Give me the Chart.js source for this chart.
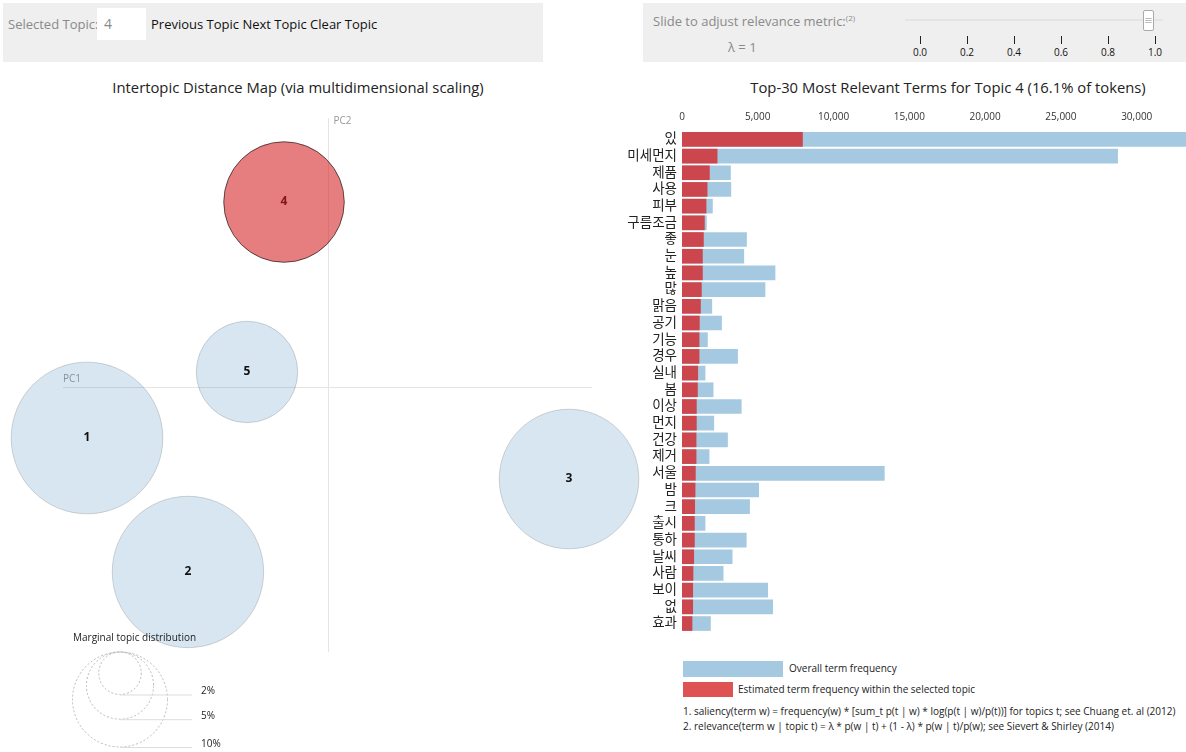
<!DOCTYPE html>
<html>
<head>
<meta charset="utf-8">
<script src="https://cdn.jsdelivr.net/npm/chart.js@4.4.1/dist/chart.umd.min.js"></script>
<style>
  body { margin: 0; width: 1186px; height: 752px; position: relative; overflow: hidden; background: #fff;
         font-family: "Open Sans", "Noto Sans CJK KR", sans-serif; color: #222; }
  .box { position: absolute; background: #efefef; }
  .abs { position: absolute; white-space: nowrap; }
  .gray { color: #8a8a8a; }
  .small { font-size: 10px; }
</style>
</head>
<body>

<!-- topic selector -->
<div class="box" style="left:3px;top:3px;width:540px;height:59px;"></div>
<div class="abs gray" style="left:8px;top:15px;font-size:13px;">Selected Topic:</div>
<div class="abs" style="left:97px;top:8px;width:49px;height:32px;background:#fff;"></div>
<div class="abs gray" style="left:104px;top:14px;font-size:14px;">4</div>
<div class="abs" style="left:151px;top:15px;font-size:13px;color:#111;">Previous Topic Next Topic Clear Topic</div>

<!-- relevance slider -->
<div class="box" style="left:643px;top:3px;width:543px;height:59px;"></div>
<div class="abs gray" style="left:653px;top:12px;font-size:13px;">Slide to adjust relevance metric:<sup style="font-size:8px;">(2)</sup></div>
<div class="abs gray" style="left:728px;top:38px;font-size:13px;">&lambda; = 1</div>
<div class="abs" style="left:905px;top:19px;width:258px;height:2px;background:#e4e4e4;"></div>
<div id="sliderTicks"></div>
<div class="abs" style="left:1143px;top:10px;width:9px;height:19px;background:#fff;border:1px solid #aaa;border-radius:2px;font-size:9px;color:#888;text-align:center;line-height:19px;">&#8801;</div>

<!-- titles -->
<div class="abs" style="left:0;width:596px;top:77px;text-align:center;font-size:14.8px;">Intertopic Distance Map (via multidimensional scaling)</div>
<div class="abs" style="left:710px;width:476px;top:77px;text-align:center;font-size:14.8px;">Top-30 Most Relevant Terms for Topic 4 (16.1% of tokens)</div>

<div class="abs" style="left:0;top:70px;width:660px;height:682px;"><canvas id="mds"></canvas></div>
<div class="abs" style="left:620px;top:100px;width:566px;height:545px;"><canvas id="bars"></canvas></div>

<!-- legend and notes -->
<div class="abs" style="left:683px;top:661px;width:100px;height:16px;background:rgba(31,119,180,0.4);"></div>
<div class="abs small" style="left:789px;top:661px;">Overall term frequency</div>
<div class="abs" style="left:683px;top:682px;width:50px;height:15px;background:rgba(214,39,40,0.8);"></div>
<div class="abs small" style="left:738px;top:682px;">Estimated term frequency within the selected topic</div>
<div class="abs small" style="left:683px;top:704px;">1. saliency(term w) = frequency(w) * [sum_t p(t | w) * log(p(t | w)/p(t))] for topics t; see Chuang et. al (2012)</div>
<div class="abs small" style="left:683px;top:719px;">2. relevance(term w | topic t) = &lambda; * p(w | t) + (1 - &lambda;) * p(w | t)/p(w); see Sievert &amp; Shirley (2014)</div>

<script>
// topics on the intertopic distance map
const topicIds = [1, 2, 3, 4, 5];
const pcX = [-0.2273, -0.1319, 0.2283, -0.0411, -0.0761];
const pcY = [-0.0481, -0.1745, -0.0868, 0.1745, 0.0142];
const topicShare = [25.5, 25.4, 21.6, 16.1, 11.4]; // % of tokens
const selectedTopic = 4;
const marginalLevels = [2, 5, 10];

// top-30 terms for the selected topic
const terms = ['있', '미세먼지', '제품', '사용', '피부', '구름조금', '좋', '눈', '높', '많',
  '맑음', '공기', '기능', '경우', '실내', '봄', '이상', '먼지', '건강', '제거',
  '서울', '밤', '크', '출시', '통하', '날씨', '사람', '보이', '없', '효과'];
const topicFreq = [7970, 2340, 1830, 1680, 1610, 1500, 1435, 1370, 1370, 1300,
  1240, 1170, 1150, 1150, 1060, 1040, 970, 970, 950, 950,
  905, 885, 860, 840, 840, 795, 750, 730, 730, 685];
const totalFreq = [33250, 28760, 3220, 3245, 2030, 1630, 4280, 4100, 6160, 5500,
  1990, 2630, 1700, 3690, 1545, 2075, 3930, 2120, 3025, 1810,
  13370, 5080, 4480, 1545, 4260, 3330, 2735, 5675, 6005, 1900];
const freqTicks = [0, 5000, 10000, 15000, 20000, 25000, 30000];
const sliderTicks = [0.0, 0.2, 0.4, 0.6, 0.8, 1.0];

const FONT = '"Open Sans", "Noto Sans CJK KR", sans-serif';
const R10 = 47.5; // radius in px of a 10% topic
const radiusOf = p => R10 * Math.sqrt(p / 10);

// slider ticks
const st = document.getElementById('sliderTicks');
sliderTicks.forEach(v => {
  const x = 920 + v * 235;
  st.insertAdjacentHTML('beforeend',
    `<div class="abs" style="left:${x}px;top:36px;width:1px;height:8px;background:#222;"></div>` +
    `<div class="abs" style="left:${x - 15}px;width:30px;text-align:center;top:45px;font-size:10px;color:#111;">${v.toFixed(1)}</div>`);
});

const pcaAxes = {
  id: 'pcaAxes',
  beforeDatasetsDraw(chart) {
    const { ctx, chartArea: a, scales: { x, y } } = chart;
    const x0 = Math.round(x.getPixelForValue(0)) + 0.5;
    const y0 = Math.round(y.getPixelForValue(0)) + 0.5;
    ctx.save();
    ctx.strokeStyle = '#e4e4e4';
    ctx.lineWidth = 1;
    ctx.beginPath();
    ctx.moveTo(a.left, y0); ctx.lineTo(a.right, y0);
    ctx.moveTo(x0, a.top - 4); ctx.lineTo(x0, a.bottom);
    ctx.stroke();
    ctx.fillStyle = '#999';
    ctx.font = '10px ' + FONT;
    ctx.textBaseline = 'bottom';
    ctx.fillText('PC1', a.left, y0 - 3);
    ctx.textBaseline = 'top';
    ctx.fillText('PC2', x0 + 5, a.top - 6);
    ctx.restore();
  }
};

const topicLabels = {
  id: 'topicLabels',
  afterDatasetsDraw(chart) {
    const { ctx } = chart;
    const meta = chart.getDatasetMeta(0);
    ctx.save();
    ctx.font = 'bold 12px ' + FONT;
    ctx.textAlign = 'center';
    ctx.textBaseline = 'middle';
    meta.data.forEach((el, i) => {
      ctx.fillStyle = topicIds[i] === selectedTopic ? '#80171a' : '#111';
      ctx.fillText(String(topicIds[i]), el.x, el.y);
    });
    ctx.restore();
  }
};

const marginalLegend = {
  id: 'marginalLegend',
  afterDraw(chart) {
    const { ctx } = chart;
    const cx = 120, top = 582;
    ctx.save();
    ctx.fillStyle = '#222';
    ctx.font = '10px ' + FONT;
    ctx.textAlign = 'left';
    ctx.textBaseline = 'middle';
    ctx.fillText('Marginal topic distribution', 73, 568);
    marginalLevels.slice().reverse().forEach(p => {
      const r = radiusOf(p);
      ctx.setLineDash([2, 2]);
      ctx.strokeStyle = '#b8b8b8';
      ctx.beginPath();
      ctx.arc(cx, top + r, r, 0, Math.PI * 2);
      ctx.stroke();
      ctx.setLineDash([]);
      ctx.strokeStyle = '#ddd';
      ctx.beginPath();
      ctx.moveTo(cx, top + 2 * r + 0.5);
      ctx.lineTo(192, top + 2 * r + 0.5);
      ctx.stroke();
      ctx.fillStyle = '#222';
      ctx.fillText(p + '%', 201, top + 2 * r - 3);
    });
    ctx.restore();
  }
};

new Chart(document.getElementById('mds'), {
  type: 'bubble',
  data: {
    datasets: [{
      data: topicIds.map((t, i) => ({ x: pcX[i], y: pcY[i], r: radiusOf(topicShare[i]) })),
      backgroundColor: topicIds.map(t => t === selectedTopic ? 'rgba(214,39,40,0.6)' : 'rgba(31,119,180,0.18)'),
      borderColor: topicIds.map(t => t === selectedTopic ? 'rgba(0,0,0,0.6)' : 'rgba(0,0,0,0.15)'),
      borderWidth: 1,
      clip: false
    }]
  },
  options: {
    responsive: true,
    maintainAspectRatio: false,
    animation: false,
    events: [],
    layout: { autoPadding: false, padding: { left: 63, right: 68, top: 52, bottom: 100 } },
    plugins: { legend: { display: false }, tooltip: { enabled: false } },
    scales: {
      x: { display: false, min: -0.25, max: 0.25 },
      y: { display: false, min: -0.25, max: 0.25 }
    }
  },
  plugins: [pcaAxes, topicLabels, marginalLegend]
});

new Chart(document.getElementById('bars'), {
  type: 'bar',
  data: {
    labels: terms,
    datasets: [
      { label: 'Estimated term frequency within the selected topic', data: topicFreq,
        backgroundColor: 'rgba(214,39,40,0.8)', grouped: false, order: 0 },
      { label: 'Overall term frequency', data: totalFreq,
        backgroundColor: 'rgba(31,119,180,0.4)', grouped: false, order: 1 }
    ]
  },
  options: {
    indexAxis: 'y',
    responsive: true,
    maintainAspectRatio: false,
    animation: false,
    events: [],
    layout: { autoPadding: false, padding: { bottom: 4, right: 0 } },
    datasets: { bar: { barPercentage: 0.88, categoryPercentage: 1 } },
    plugins: { legend: { display: false }, tooltip: { enabled: false } },
    scales: {
      x: {
        position: 'top', min: 0, max: 33250,
        grid: { display: false, drawTicks: false }, border: { display: false },
        afterBuildTicks: s => { s.ticks = freqTicks.map(v => ({ value: v })); },
        ticks: { padding: 8, color: '#333', font: { size: 10, family: FONT },
                 callback: v => v.toLocaleString('en-US') },
        afterFit: s => { s.height = 31; }
      },
      y: {
        grid: { display: false, drawTicks: false }, border: { display: false },
        ticks: { padding: 5, color: '#222', autoSkip: false, font: { size: 13.5, family: FONT } },
        afterFit: s => { s.width = 62; }
      }
    }
  }
});
</script>
</body>
</html>
